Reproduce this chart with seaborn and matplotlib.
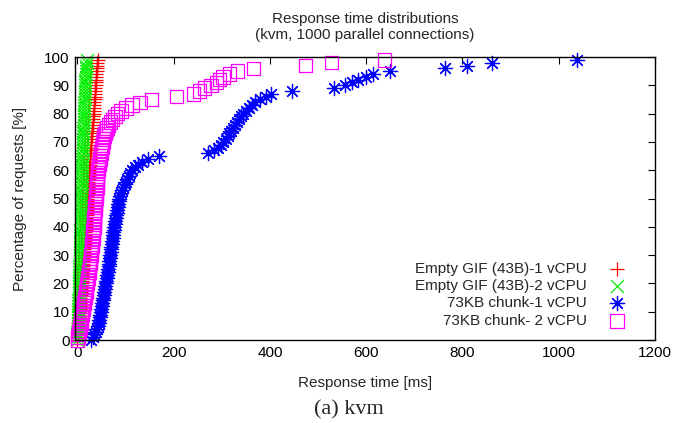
import numpy as np
import pandas as pd
import seaborn as sns
import matplotlib.pyplot as plt

# percentile of requests (0..99) and response time [ms] per series
pct = list(range(100))

gif_1cpu = [0, 0, 1, 1, 2, 2, 2, 3, 3, 4,
            4, 5, 5, 5, 6, 6, 7, 7, 8, 8,
            9, 9, 9, 10, 10, 11, 11, 12, 12, 12,
            13, 13, 14, 14, 15, 15, 15, 16, 16, 17,
            17, 17, 18, 18, 19, 19, 19, 20, 20, 21,
            21, 21, 22, 22, 23, 23, 23, 24, 24, 25,
            25, 25, 26, 26, 27, 27, 27, 28, 28, 29,
            29, 29, 30, 30, 31, 31, 32, 32, 33, 33,
            34, 34, 34, 35, 35, 36, 36, 36, 37, 37,
            38, 38, 38, 39, 39, 40, 40, 41, 41, 42]

gif_2cpu = [0, 0, 0, 0, 1, 1, 1, 1, 1, 2,
            2, 2, 2, 2, 2, 3, 3, 3, 3, 3,
            3, 4, 4, 4, 4, 4, 4, 5, 5, 5,
            5, 5, 5, 6, 6, 6, 6, 6, 6, 6,
            7, 7, 7, 7, 7, 7, 7, 8, 8, 8,
            8, 8, 8, 8, 9, 9, 9, 9, 9, 9,
            10, 10, 10, 10, 10, 10, 11, 11, 11, 11,
            11, 12, 12, 12, 12, 12, 13, 13, 13, 13,
            13, 14, 14, 14, 14, 15, 15, 15, 15, 16,
            16, 16, 16, 17, 17, 17, 18, 18, 19, 20]

chunk_1cpu = [28, 32, 35, 38, 40, 42, 44, 45, 46, 48,
              49, 50, 51, 52, 53, 54, 55, 56, 57, 58,
              59, 60, 61, 62, 63, 64, 65, 65, 66, 67,
              68, 69, 69, 70, 71, 72, 73, 74, 75, 76,
              77, 78, 79, 80, 81, 82, 83, 84, 85, 86,
              87, 89, 91, 93, 95, 98, 101, 104, 107, 110,
              114, 119, 126, 135, 146, 170, 272, 284, 292, 298,
              303, 308, 312, 316, 320, 324, 328, 332, 336, 340,
              345, 350, 356, 362, 370, 380, 392, 403, 445, 534,
              555, 570, 583, 600, 615, 650, 763, 810, 862, 1038]

chunk_2cpu = [0, 1, 2, 3, 5, 6, 7, 8, 9, 10,
              11, 12, 13, 14, 15, 16, 17, 18, 19, 19,
              20, 21, 22, 23, 24, 25, 25, 26, 27, 27,
              28, 29, 29, 30, 30, 31, 32, 32, 33, 33,
              34, 34, 35, 35, 36, 36, 37, 37, 38, 38,
              39, 39, 40, 40, 41, 41, 41, 42, 42, 42,
              43, 44, 45, 46, 47, 48, 49, 50, 51, 52,
              53, 54, 55, 57, 59, 62, 65, 69, 73, 78,
              83, 91, 101, 114, 130, 154, 206, 241, 254, 264,
              278, 289, 295, 302, 316, 333, 366, 474, 528, 638]

labels = ["Empty GIF (43B)-1 vCPU", "Empty GIF (43B)-2 vCPU",
          "73KB chunk-1 vCPU", "73KB chunk- 2 vCPU"]

sns.set_theme(style="white")
plt.rcParams["font.family"] = ["Liberation Sans", "DejaVu Sans"]
plt.rcParams["font.size"] = 11

fig = plt.figure(figsize=(6.84, 4.23), dpi=100)
ax = fig.add_axes([0.1096, 0.1962, 0.848, 0.669])

common = dict(linewidth=0.9, clip_on=False, ax=ax)
sns.scatterplot(x=gif_1cpu, y=pct, marker="+", s=100, color="#ff0000", label=labels[0], **common)
sns.scatterplot(x=gif_2cpu, y=pct, marker="x", s=85, color="#00ee00", label=labels[1], **common)
sns.scatterplot(x=chunk_1cpu, y=pct, marker=(8, 2, 0), s=105, color="#0000ff", label=labels[2], **common)
sns.scatterplot(x=chunk_2cpu, y=pct, marker="s", s=95, color="#ff00ff", facecolor="none",
                edgecolor="#ff00ff", label=labels[3], **common)

ax.set_xlim(-5, 1200)
ax.set_ylim(0, 100)
ax.set_xticks(range(0, 1201, 200))
ax.set_yticks(range(0, 101, 10))
ax.tick_params(direction="in", length=5, width=0.8, top=True, right=True,
               labelsize=11, colors="black", pad=4)
for sp in ax.spines.values():
    sp.set_color("black")
    sp.set_linewidth(1.0)

ax.set_xlabel("Response time [ms]", fontsize=11, labelpad=12)
ax.set_ylabel("Percentage of requests [%]", fontsize=11, labelpad=12)
ax.set_title("Response time distributions\n(kvm, 1000 parallel connections)",
             fontsize=11, pad=13, linespacing=1.2)

ax.legend(loc="lower right", bbox_to_anchor=(0.982, 0.0), markerfirst=False,
          frameon=False, fontsize=11, handletextpad=1.0, labelspacing=0.22,
          borderaxespad=0.4)

fig.text(0.51, 0.02, "(a) kvm", fontsize=16, ha="center",
         family=["Liberation Serif", "DejaVu Serif"])

fig.savefig("out.png", dpi=100)
